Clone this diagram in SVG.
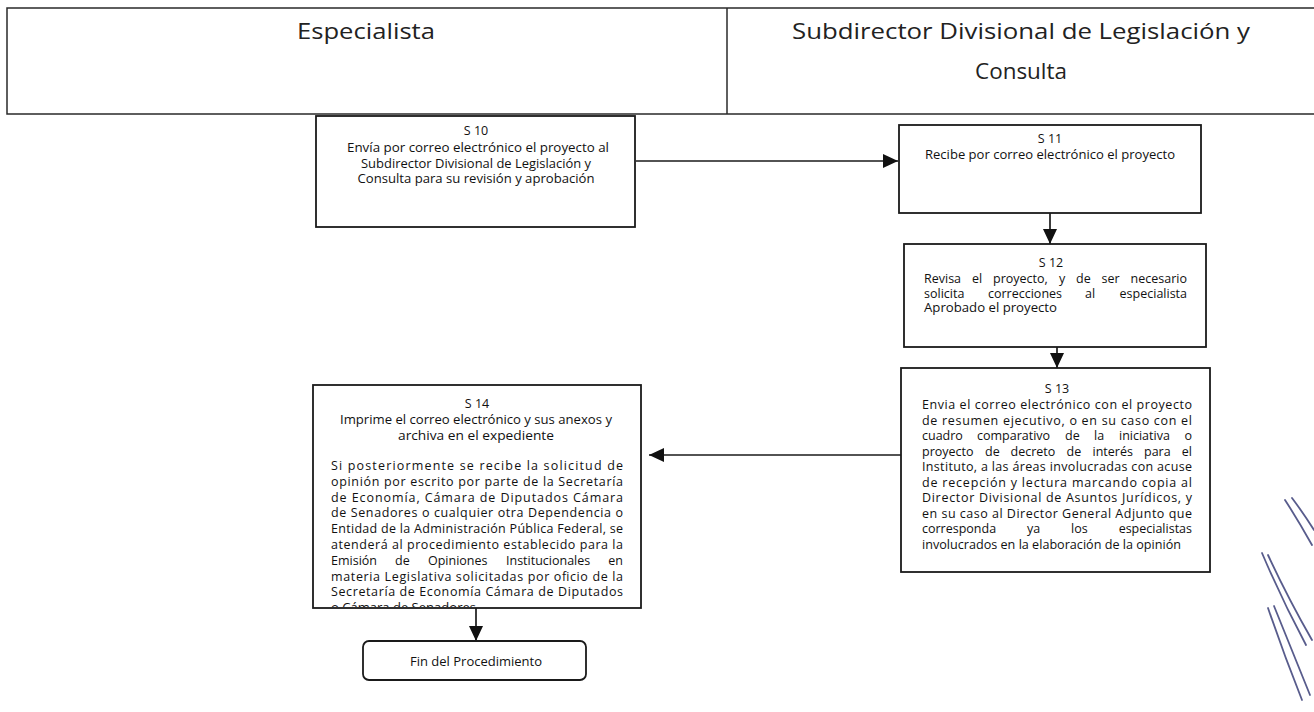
<svg xmlns="http://www.w3.org/2000/svg" width="1314" height="712" viewBox="0 0 1314 712">
<style>
.bg{fill:#ffffff}
.hdr{fill:none;stroke:#2a2a2a;stroke-width:1.5}
.box{fill:#ffffff;stroke:#1a1a1a;stroke-width:1.8}
.conn{fill:none;stroke:#1a1a1a;stroke-width:1.7}
.ht{font-family:"Open Sans","Liberation Sans",sans-serif;font-size:21px;fill:#222;text-anchor:middle}
.t{font-family:"Open Sans","Liberation Sans",sans-serif;font-size:12.5px;fill:#111}
.c{text-anchor:middle}
.sig{fill:none;stroke:#3b3f78;stroke-width:1.8;stroke-linecap:round;opacity:0.85}
</style>
<defs>
<marker id="ah" markerUnits="userSpaceOnUse" markerWidth="15" markerHeight="14" refX="15" refY="7" orient="auto">
<path d="M0,0 L15,7 L0,14 z" fill="#111"/>
</marker>
<clipPath id="clip14"><rect x="314" y="386" width="326" height="221"/></clipPath>
</defs>
<rect class="bg" x="0" y="0" width="1314" height="712"/>

<g id="header">
<path class="hdr" d="M1314,8 H7 V114 H1314"/>
<path class="hdr" d="M727,8 V114"/>
<text class="ht" x="366" y="39" textLength="138" lengthAdjust="spacingAndGlyphs">Especialista</text>
<text class="ht" x="1021" y="39" textLength="458" lengthAdjust="spacingAndGlyphs">Subdirector Divisional de Legislación y</text>
<text class="ht" x="1021" y="79" textLength="92" lengthAdjust="spacingAndGlyphs">Consulta</text>
</g>

<g id="connectors">
<line class="conn" x1="636" y1="161" x2="898" y2="161" marker-end="url(#ah)"/>
<line class="conn" x1="1050" y1="213" x2="1050" y2="244" marker-end="url(#ah)"/>
<line class="conn" x1="1057" y1="347" x2="1057" y2="368" marker-end="url(#ah)"/>
<line class="conn" x1="901" y1="455" x2="649" y2="455" marker-end="url(#ah)"/>
<line class="conn" x1="476" y1="608" x2="476" y2="641" marker-end="url(#ah)"/>
</g>

<g id="s10">
<rect class="box" x="316" y="116" width="319" height="111"/>
<text class="t c" x="476" y="135">S 10</text>
<text class="t c" x="478" y="151.5" textLength="262" lengthAdjust="spacingAndGlyphs">Envía por correo electrónico el proyecto al</text>
<text class="t c" x="476" y="167.5" textLength="230" lengthAdjust="spacingAndGlyphs">Subdirector Divisional de Legislación y</text>
<text class="t c" x="476" y="183" textLength="237" lengthAdjust="spacingAndGlyphs">Consulta para su revisión y aprobación</text>
</g>

<g id="s11">
<rect class="box" x="899" y="125" width="302" height="88"/>
<text class="t c" x="1050" y="143">S 11</text>
<text class="t c" x="1050" y="159" textLength="250" lengthAdjust="spacingAndGlyphs">Recibe por correo electrónico el proyecto</text>
</g>

<g id="s12">
<rect class="box" x="904" y="244" width="302" height="103"/>
<text class="t c" x="1051" y="266.5">S 12</text>
<text class="t" y="282.5"><tspan x="924">Revisa</tspan><tspan x="972">el</tspan><tspan x="993">proyecto,</tspan><tspan x="1059">y</tspan><tspan x="1076">de</tspan><tspan x="1101.5">ser</tspan><tspan x="1187" text-anchor="end">necesario</tspan></text>
<text class="t" y="297.5"><tspan x="924">solicita</tspan><tspan x="988">correcciones</tspan><tspan x="1085">al</tspan><tspan x="1187" text-anchor="end">especialista</tspan></text>
<text class="t" x="924" y="312" textLength="133" lengthAdjust="spacingAndGlyphs">Aprobado el proyecto</text>
</g>

<g id="s13">
<rect class="box" x="901" y="368" width="309" height="204"/>
<text class="t c" x="1057" y="393">S 13</text>
<text class="t" x="922" y="409" textLength="270" lengthAdjust="spacing">Envia el correo electrónico con el proyecto</text>
<text class="t" x="922" y="424.5" textLength="270" lengthAdjust="spacing">de resumen ejecutivo, o en su caso con el</text>
<text class="t" y="440"><tspan x="922">cuadro</tspan><tspan x="977">comparativo</tspan><tspan x="1065">de</tspan><tspan x="1094">la</tspan><tspan x="1119">iniciativa</tspan><tspan x="1192" text-anchor="end">o</tspan></text>
<text class="t" y="455.5"><tspan x="922">proyecto</tspan><tspan x="985">de</tspan><tspan x="1010.5">decreto</tspan><tspan x="1066.5">de</tspan><tspan x="1092.5">interés</tspan><tspan x="1144">para</tspan><tspan x="1192" text-anchor="end">el</tspan></text>
<text class="t" x="922" y="471" textLength="270" lengthAdjust="spacing">Instituto, a las áreas involucradas  con acuse</text>
<text class="t" x="922" y="486.5" textLength="270" lengthAdjust="spacing">de recepción y lectura  marcando copia al</text>
<text class="t" x="922" y="502" textLength="270" lengthAdjust="spacing">Director Divisional de Asuntos Jurídicos, y</text>
<text class="t" x="922" y="517.5" textLength="270" lengthAdjust="spacing">en su caso al Director General Adjunto que</text>
<text class="t" y="533"><tspan x="922">corresponda</tspan><tspan x="1027">ya</tspan><tspan x="1071">los</tspan><tspan x="1192" text-anchor="end">especialistas</tspan></text>
<text class="t" x="922" y="548.5" textLength="259" lengthAdjust="spacingAndGlyphs">involucrados en la elaboración de la opinión</text>
</g>

<g id="s14">
<rect class="box" x="313" y="385" width="328" height="223"/>
<g clip-path="url(#clip14)">
<text class="t c" x="477" y="408">S 14</text>
<text class="t c" x="476" y="424" textLength="272" lengthAdjust="spacingAndGlyphs">Imprime el correo electrónico y sus anexos y</text>
<text class="t c" x="476" y="440" textLength="156" lengthAdjust="spacingAndGlyphs">archiva en el expediente</text>
<text class="t" x="331" y="470" textLength="292" lengthAdjust="spacing">Si posteriormente se recibe la solicitud de</text>
<text class="t" x="331" y="485.8" textLength="292" lengthAdjust="spacing">opinión por escrito por parte de la Secretaría</text>
<text class="t" x="331" y="501.6" textLength="292" lengthAdjust="spacing">de Economía, Cámara de Diputados  Cámara</text>
<text class="t" x="331" y="517.4" textLength="292" lengthAdjust="spacing">de Senadores o cualquier otra Dependencia o</text>
<text class="t" x="331" y="533.2" textLength="292" lengthAdjust="spacing">Entidad de la Administración Pública Federal, se</text>
<text class="t" x="331" y="549" textLength="292" lengthAdjust="spacing">atenderá al procedimiento establecido para la</text>
<text class="t" y="564.8"><tspan x="331">Emisión</tspan><tspan x="395">de</tspan><tspan x="428">Opiniones</tspan><tspan x="506">Institucionales</tspan><tspan x="623" text-anchor="end">en</tspan></text>
<text class="t" x="331" y="580.6" textLength="292" lengthAdjust="spacing">materia Legislativa solicitadas por oficio de la</text>
<text class="t" x="331" y="596.4" textLength="292" lengthAdjust="spacing">Secretaría de Economía Cámara de Diputados</text>
<text class="t" x="331" y="612.2" textLength="145" lengthAdjust="spacingAndGlyphs">o Cámara de Senadores</text>
</g>
</g>

<g id="fin">
<rect class="box" x="363" y="641" width="223" height="39" rx="6" ry="6"/>
<text class="t c" x="476" y="666" textLength="132" lengthAdjust="spacingAndGlyphs">Fin del Procedimiento</text>
</g>

<g id="signature">
<path class="sig" d="M1285,500 Q1298,520 1312,545"/>
<path class="sig" d="M1292,498 Q1304,514 1314,530"/>
<path class="sig" d="M1262,553 Q1282,600 1306,645"/>
<path class="sig" d="M1268,555 Q1288,598 1312,640"/>
<path class="sig" d="M1268,608 Q1284,655 1302,700"/>
<path class="sig" d="M1274,606 Q1292,650 1310,695"/>
</g>
</svg>
